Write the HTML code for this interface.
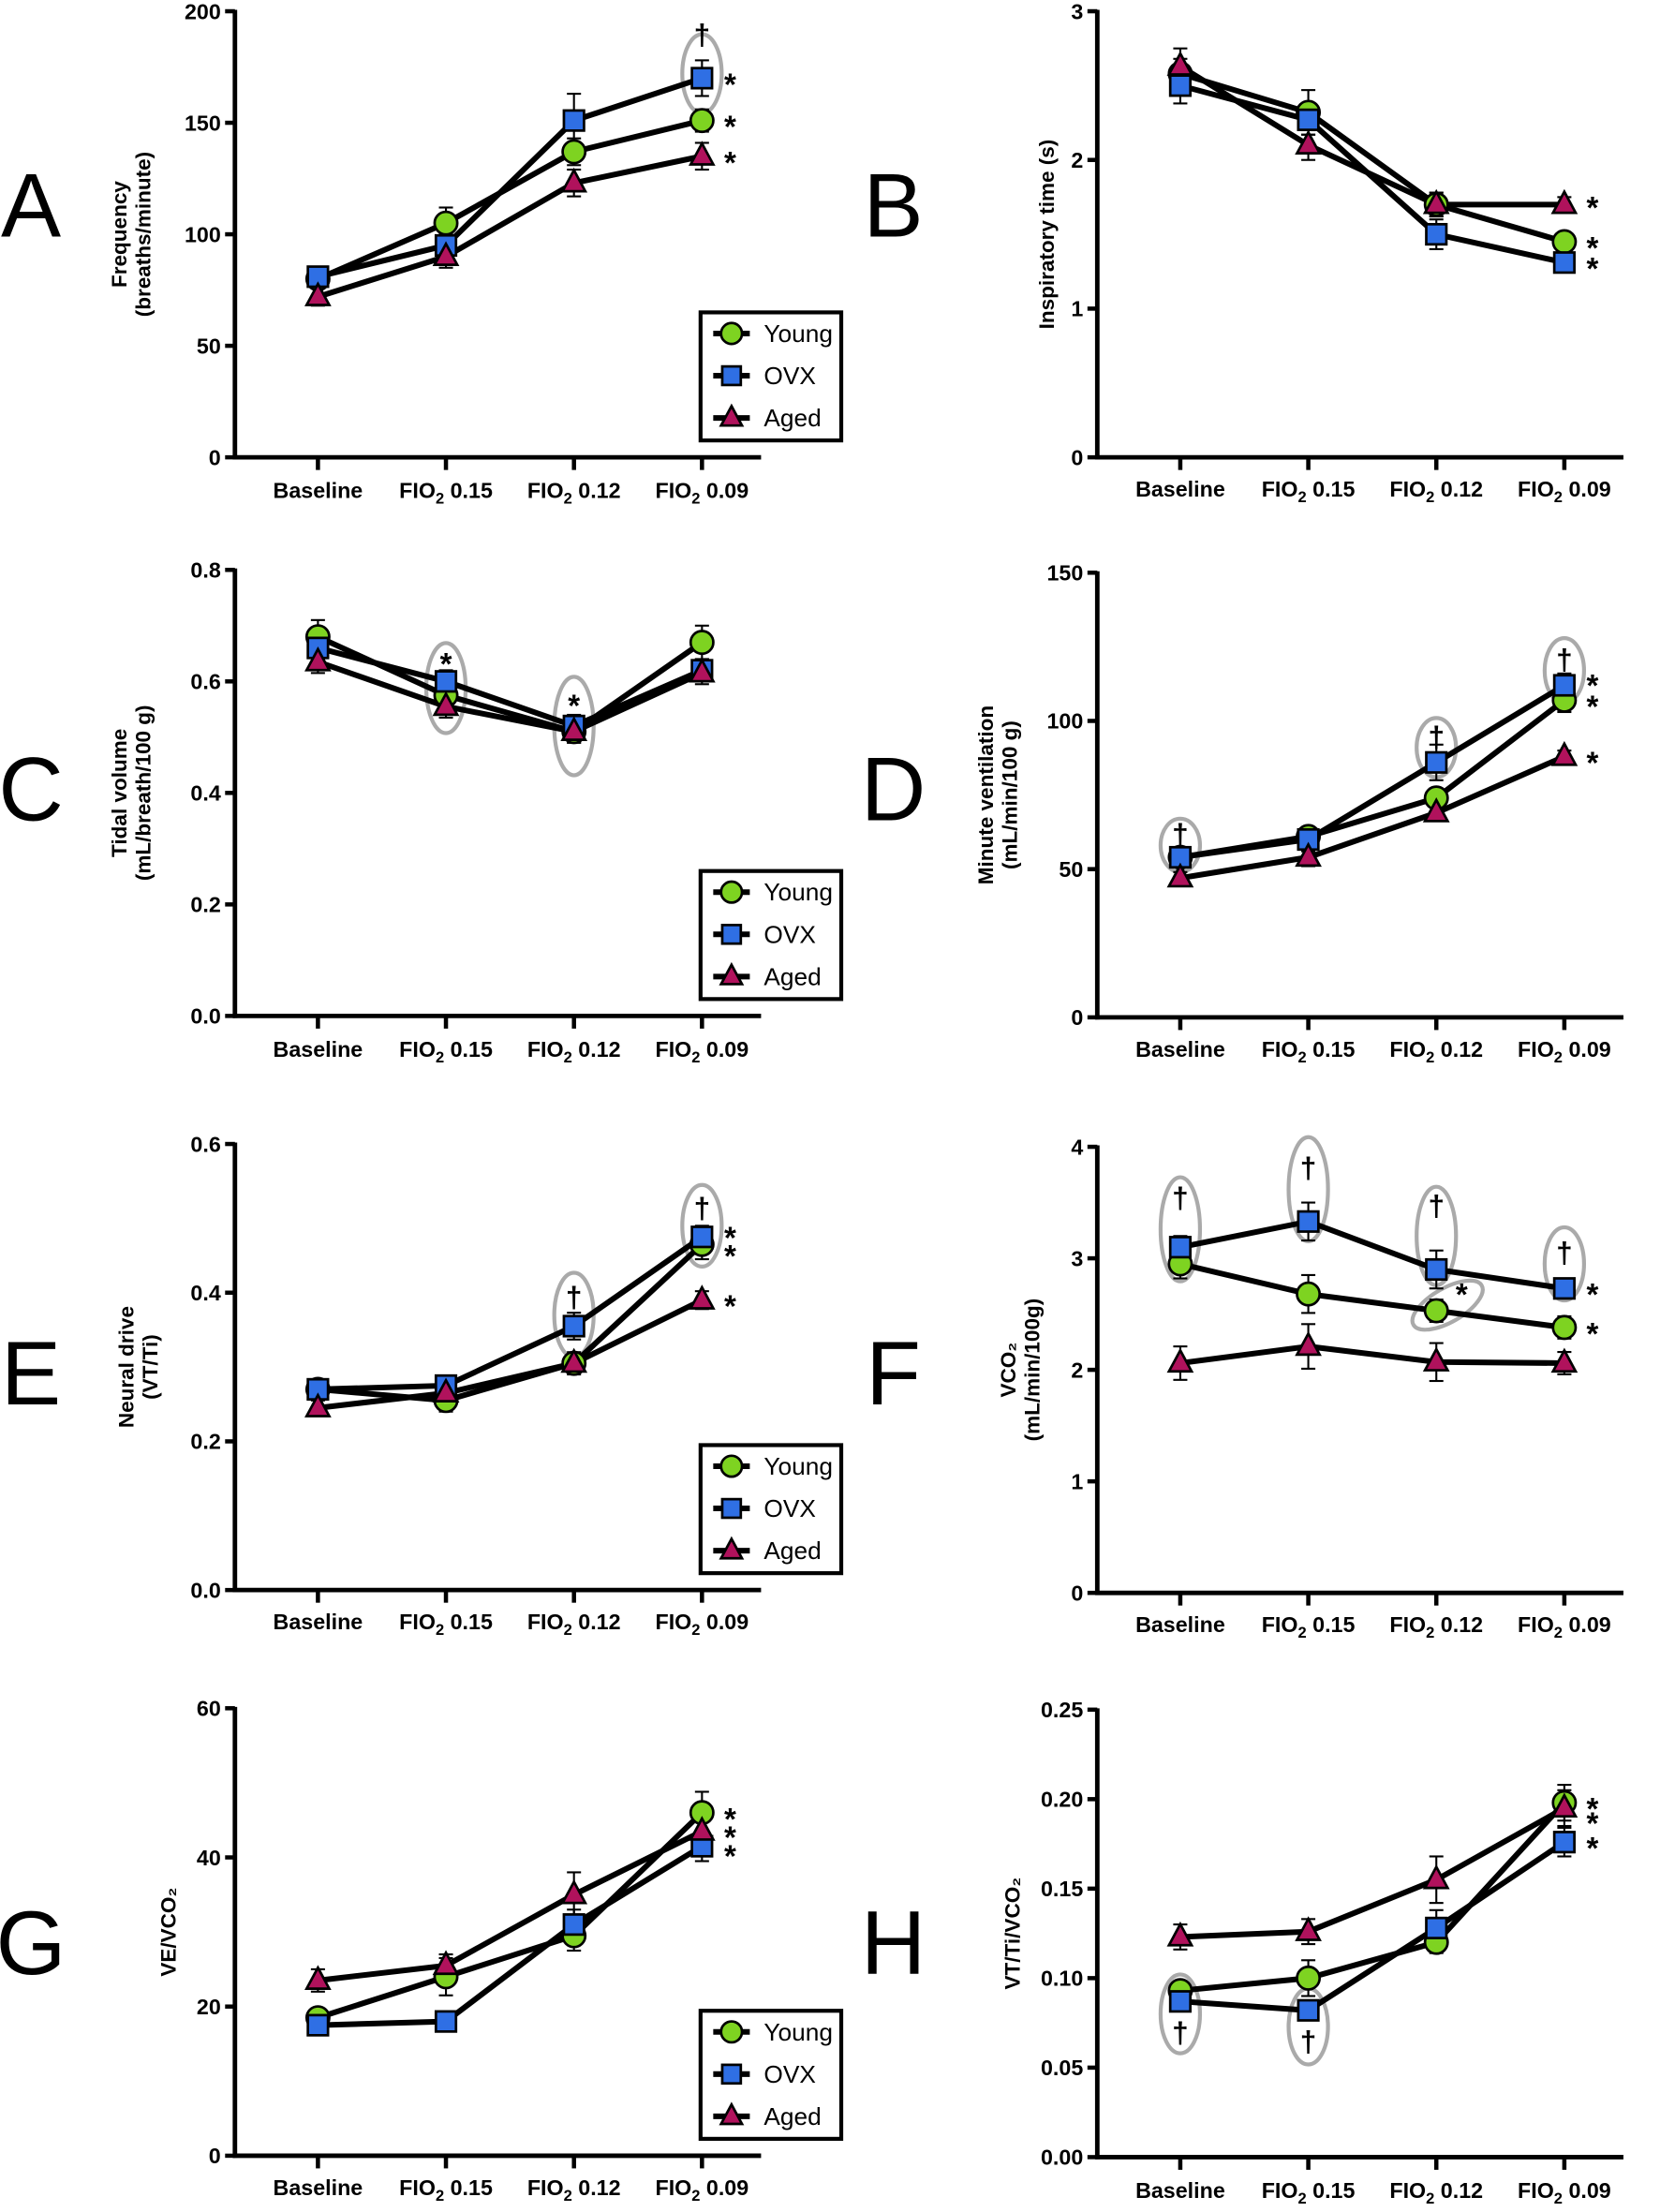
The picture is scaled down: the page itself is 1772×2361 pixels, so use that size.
<!DOCTYPE html>
<html><head><meta charset="utf-8"><style>
html,body{margin:0;padding:0;background:#fff}
svg{display:block}
text{font-family:"Liberation Sans",sans-serif}
</style></head><body>
<svg id="fig" width="1772" height="2361" viewBox="0 0 1180 1572" preserveAspectRatio="none" xmlns="http://www.w3.org/2000/svg"></svg>
<script>
const categories = ["Baseline","FIO2 0.15","FIO2 0.12","FIO2 0.09"];
const seriesNames = ["Young","OVX","Aged"];
// Panel A
const aYoung=[80,105,137,151], aOVX=[81,95,151,170], aAged=[72,90,123,135];
const aErr=[[4,7,6,5],[4,5,12,8],[4,5,6,6]];
const aTicks=[0,50,100,150,200];
// Panel B
const bYoung=[2.58,2.32,1.7,1.45], bOVX=[2.5,2.27,1.5,1.31], bAged=[2.63,2.1,1.7,1.7];
const bErr=[[0.1,0.15,0.08,0.05],[0.12,0.1,0.1,0.05],[0.12,0.1,0.08,0.05]];
const bTicks=[0,1,2,3];
// Panel C
const cYoung=[0.68,0.575,0.51,0.67], cOVX=[0.66,0.60,0.52,0.62], cAged=[0.635,0.555,0.51,0.615];
const cErr=[[0.03,0.02,0.02,0.03],[0.02,0.02,0.02,0.02],[0.02,0.02,0.02,0.02]];
const cTicks=[0,0.2,0.4,0.6,0.8];
// Panel D
const dYoung=[54,61,74,107], dOVX=[54,60,86,112], dAged=[47,54,69,88];
const dErr=[[2,3,3,4],[3,4,6,4],[2,3,2,2]];
const dTicks=[0,50,100,150];
// Panel E
const eYoung=[0.27,0.255,0.305,0.465], eOVX=[0.27,0.275,0.355,0.475], eAged=[0.245,0.265,0.305,0.39];
const eErr=[[0.01,0.015,0.015,0.02],[0.012,0.012,0.018,0.015],[0.01,0.012,0.012,0.012]];
const eTicks=[0,0.2,0.4,0.6];
// Panel F
const fYoung=[2.95,2.68,2.53,2.38], fOVX=[3.1,3.33,2.9,2.73], fAged=[2.06,2.21,2.07,2.06];
const fErr=[[0.13,0.17,0.1,0.1],[0.1,0.17,0.17,0.06],[0.15,0.2,0.17,0.1]];
const fTicks=[0,1,2,3,4];
// Panel G
const gYoung=[18.5,24,29.5,46], gOVX=[17.5,18,31,41.5], gAged=[23.5,25.5,35,43.5];
const gErr=[[1,2.5,2,2.8],[0.8,0.8,2,2],[1.5,1.5,3,2]];
const gTicks=[0,20,40,60];
// Panel H
const hYoung=[0.093,0.1,0.12,0.198], hOVX=[0.087,0.082,0.128,0.176], hAged=[0.123,0.126,0.155,0.195];
const hErr=[[0.005,0.01,0.006,0.01],[0.005,0.005,0.01,0.008],[0.007,0.007,0.013,0.01]];
const hTicks=[0,0.05,0.10,0.15,0.20,0.25];

const NS="http://www.w3.org/2000/svg";
const svg=document.getElementById('fig');
function mk(tag,attrs,parent){const e=document.createElementNS(NS,tag);for(const k in attrs)e.setAttribute(k,attrs[k]);(parent||svg).appendChild(e);return e;}
const colors=["#7ed321","#2f6fe4","#b0125c"];

const panels=[
 {id:"a",L:"A",lx:22,ly:145,ax:167,top:8,bot:325,max:200,ticks:aTicks,dec:0,data:[aYoung,aOVX,aAged],err:aErr,title:["Frequency","(breaths/minute)"],tx:92,legend:true,catY:349,
  ovals:[[3,172,28]],daggers:[[3,190]],stars:[[3,170],[3,151],[3,135]]},
 {id:"b",L:"B",lx:635,ly:145,ax:780,top:8,bot:325,max:3,ticks:bTicks,dec:0,data:[bYoung,bOVX,bAged],err:bErr,title:["Inspiratory time (s)"],tx:744,legend:false,catY:348,
  ovals:[],daggers:[],stars:[[3,1.72],[3,1.45],[3,1.31]]},
 {id:"c",L:"C",lx:22,ly:560,ax:167,top:405,bot:722,max:0.8,ticks:cTicks,dec:1,data:[cYoung,cOVX,cAged],err:cErr,title:["Tidal volume","(mL/breath/100 g)"],tx:92,legend:true,catY:746,
  ovals:[[1,0.588,32],[2,0.52,35]],daggers:[],stars:[[1,0.63,0],[2,0.555,0]]},
 {id:"d",L:"D",lx:635,ly:560,ax:780,top:407,bot:723,max:150,ticks:dTicks,dec:0,data:[dYoung,dOVX,dAged],err:dErr,title:["Minute ventilation","(mL/min/100 g)"],tx:708,legend:false,catY:746,
  ovals:[[0,58,19],[2,91,21],[3,117,23]],daggers:[[0,62],[2,95],[3,121]],stars:[[3,114],[3,107],[3,88]]},
 {id:"e",L:"E",lx:22,ly:975,ax:167,top:813,bot:1130,max:0.6,ticks:eTicks,dec:1,data:[eYoung,eOVX,eAged],err:eErr,title:["Neural drive","(VT/Ti)"],tx:97,legend:true,catY:1153,
  ovals:[[2,0.37,30],[3,0.49,29]],daggers:[[2,0.395],[3,0.515]],stars:[[3,0.482],[3,0.458],[3,0.39]]},
 {id:"f",L:"F",lx:635,ly:975,ax:780,top:815,bot:1132,max:4,ticks:fTicks,dec:0,data:[fYoung,fOVX,fAged],err:fErr,title:["VCO\u2082","(mL/min/100g)"],tx:724,legend:false,catY:1155,
  ovals:[[0,3.26,37],[1,3.62,37],[2,3.2,35],[3,2.95,26]],daggers:[[0,3.55],[1,3.82],[2,3.48],[3,3.06]],stars:[[3,2.73],[3,2.38]]},
 {id:"g",L:"G",lx:22,ly:1380,ax:167,top:1214,bot:1532,max:60,ticks:gTicks,dec:0,data:[gYoung,gOVX,gAged],err:gErr,title:["VE/VCO\u2082"],tx:120,legend:true,catY:1555,
  ovals:[],daggers:[],stars:[[3,46],[3,43.5],[3,41]]},
 {id:"h",L:"H",lx:635,ly:1380,ax:780,top:1215,bot:1533,max:0.25,ticks:hTicks,dec:2,data:[hYoung,hOVX,hAged],err:hErr,title:["VT/Ti/VCO\u2082"],tx:720,legend:false,catY:1557,
  ovals:[[0,0.08,28],[1,0.073,27]],daggers:[[0,0.07],[1,0.065]],stars:[[3,0.198],[3,0.19],[3,0.176]]}
];

function marker(g,type,x,y,s){
  if(type===0) return mk('circle',{cx:x,cy:y,r:s*0.62,fill:colors[0],stroke:'#000','stroke-width':1.8},g);
  if(type===1) return mk('rect',{x:x-s*0.55,y:y-s*0.55,width:s*1.1,height:s*1.1,fill:colors[1],stroke:'#000','stroke-width':1.8},g);
  return mk('polygon',{points:`${x},${y-s*0.7} ${x+s*0.62},${y+s*0.45} ${x-s*0.62},${y+s*0.45}`,fill:colors[2],stroke:'#000','stroke-width':1.8},g);
}
function catLabel(g,x,y,c){
  const t=mk('text',{x:x,y:y,'text-anchor':'middle','font-size':15.5,'font-weight':'bold'},g);
  if(c.startsWith("FIO2")){t.appendChild(document.createTextNode("FIO"));const s=mk('tspan',{'font-size':11,dy:4},t);s.textContent="2";const r=mk('tspan',{dy:-4},t);r.textContent=c.slice(4);}
  else t.textContent=c;
}
panels.forEach(p=>{
  const g=mk('g',{});
  
  
  const X=i=>p.ax+59+91*i;
  const Y=v=>p.bot-(v/p.max)*(p.bot-p.top);
  const lab=mk('text',{x:p.lx,y:p.ly+23,'text-anchor':'middle','font-size':64},g);
  
  
  lab.textContent=p.L;
  const ya=mk('line',{x1:p.ax,y1:p.top-1,x2:p.ax,y2:p.bot+1.5,stroke:'#000','stroke-width':3.2},g);
  
  
  const xa=mk('line',{x1:p.ax-1.5,y1:p.bot,x2:p.ax+374,y2:p.bot,stroke:'#000','stroke-width':3.2},g);
  
  
  p.ticks.forEach(t=>{
    mk('line',{x1:p.ax-7,y1:Y(t),x2:p.ax,y2:Y(t),stroke:'#000','stroke-width':3},g);
    const tl=mk('text',{x:p.ax-10,y:Y(t)+5.5,'text-anchor':'end','font-size':15.5,'font-weight':'bold'},g);
    
    
    tl.textContent=t.toFixed(p.dec);
  });
  categories.forEach((c,i)=>{
    mk('line',{x1:X(i),y1:p.bot,x2:X(i),y2:p.bot+9,stroke:'#000','stroke-width':3},g);
    catLabel(g,X(i),p.catY+5,c);
  });
  const tt=mk('text',{transform:`translate(${p.tx},${(p.top+p.bot)/2}) rotate(-90)`,'text-anchor':'middle','font-size':15,'font-weight':'bold'},g);
  
  
  p.title.forEach((l,k)=>{const s=mk('tspan',{x:0,dy:k===0?(p.title.length>1?-2:5):17},tt);s.textContent=l;});
  p.ovals.forEach(o=>{const e=mk('ellipse',{cx:X(o[0]),cy:Y(o[1]),rx:14,ry:o[2],fill:'none',stroke:'#aaa','stroke-width':2.8},g);
    });
  if(p.id==='f'){mk('ellipse',{cx:X(2)+8,cy:Y(2.58),rx:28,ry:12,transform:`rotate(-30 ${X(2)+8} ${Y(2.58)})`,fill:'none',stroke:'#aaa','stroke-width':2.8},g);
    const s=mk('text',{x:X(2)+18,y:Y(2.72)+11,'text-anchor':'middle','font-size':22,'font-weight':'bold'},g);s.textContent='*';}
  p.data.forEach((d,si)=>d.forEach((v,i)=>{
    const e=p.err[si][i],x=X(i);
    mk('line',{x1:x,y1:Y(v-e),x2:x,y2:Y(v+e),stroke:'#000','stroke-width':1.4},g);
    mk('line',{x1:x-5,y1:Y(v+e),x2:x+5,y2:Y(v+e),stroke:'#000','stroke-width':1.4},g);
    mk('line',{x1:x-5,y1:Y(v-e),x2:x+5,y2:Y(v-e),stroke:'#000','stroke-width':1.4},g);
  }));
  p.data.forEach((d,si)=>{
    const pl=mk('polyline',{points:d.map((v,i)=>X(i)+','+Y(v)).join(' '),fill:'none',stroke:'#000','stroke-width':4},g);
    
    
  });
  p.data.forEach((d,si)=>d.forEach((v,i)=>{
    const m=marker(g,si,X(i),Y(v),13);
    
    
  }));
  p.daggers.forEach(dg=>{const t=mk('text',{x:X(dg[0]),y:Y(dg[1])+8,'text-anchor':'middle','font-size':21,'font-weight':'bold'},g);t.textContent='\u2020';});
  p.stars.forEach(s=>{const t=mk('text',{x:s.length>2?X(s[0]):X(s[0])+20,y:Y(s[1])+(s.length>2?7:12),'text-anchor':'middle','font-size':22,'font-weight':'bold'},g);
    t.textContent='*';});
  if(p.legend){
    const lg=mk('g',{},g);
    
    
    const by=p.bot-103;
    mk('rect',{x:498,y:by,width:100,height:91,fill:'#fff',stroke:'#000','stroke-width':2.8},lg);
    seriesNames.forEach((n,k)=>{
      const yy=by+15+30*k;
      mk('line',{x1:507,y1:yy,x2:533,y2:yy,stroke:'#000','stroke-width':4},lg);
      marker(lg,k,520,yy,12);
      const t=mk('text',{x:543,y:yy+6,'font-size':17.5},lg);
      
      
      t.textContent=n;
    });
  }
});
</script>
</body></html>
